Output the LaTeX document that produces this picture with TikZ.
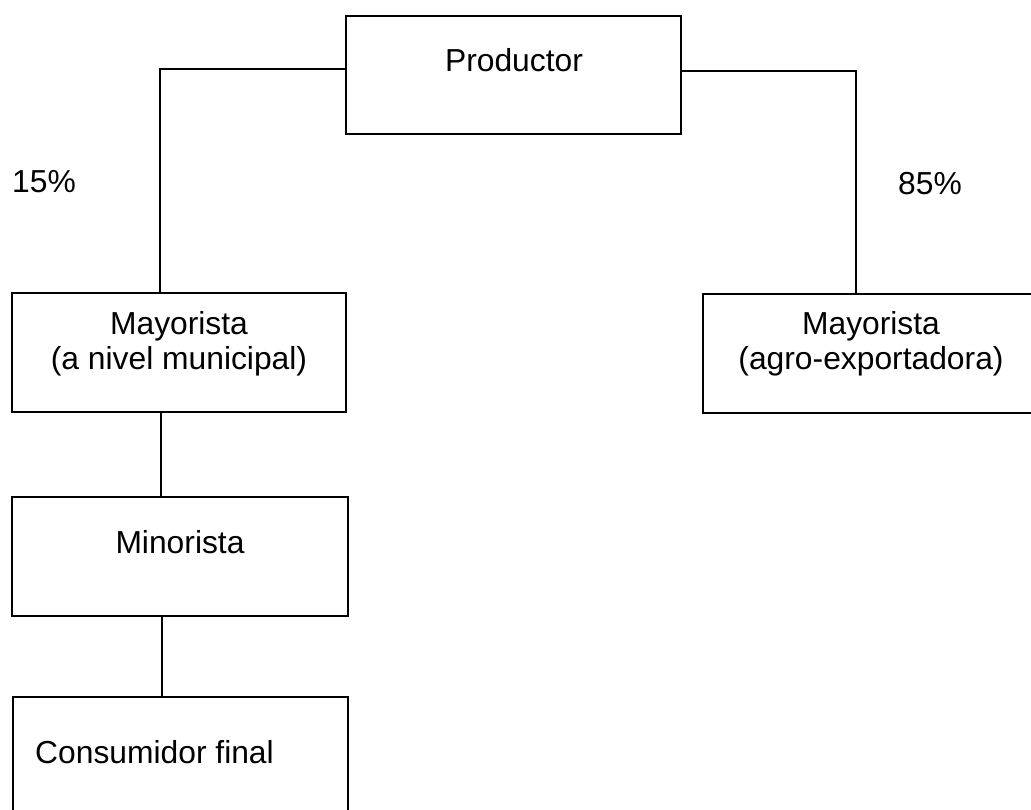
\documentclass[tikz,border=0pt]{standalone}
\usepackage{fontspec}
\setmainfont{Liberation Sans}
\usetikzlibrary{calc}
\tikzset{
  box/.style={draw=black, line width=2.2pt, inner sep=0pt, minimum width=#1},
  box/.default=335pt,
  txt/.style={anchor=base, inner sep=0pt, font=\fontsize{31.8}{35}\selectfont},
  conn/.style={draw=black, line width=2.2pt}
}
\begin{document}
\begin{tikzpicture}[x=1pt,y=-1pt]
\useasboundingbox (0,0) rectangle (1031,810);
\clip (0,0) rectangle (1031,810);
% boxes
\node[box=335pt, minimum height=118pt] (prod) at (513.5,75) {};
\node[box=334pt, minimum height=119pt] (mayL) at (179,352.5) {};
\node[box=337pt, minimum height=119pt] (mayR) at (871.5,353.5) {};
\node[box=336pt, minimum height=119pt] (mino) at (180,556.5) {};
\node[box=335pt, minimum height=140pt] (cons) at (180.5,767) {};
% texts
\node[txt] (tprod) at (514,72) {Productor};
\node[txt] (tmayL1) at (179,335) {Mayorista};
\node[txt] (tmayL2) at (179,370) {(a nivel municipal)};
\node[txt] (tmayR1) at (871,335) {Mayorista};
\node[txt] (tmayR2) at (871,370) {(agro-exportadora)};
\node[txt] (tmino) at (180,553) {Minorista};
\node[txt, anchor=base west] (tcons) at (35,763) {Consumidor final};
\node[txt, anchor=base west] (p15) at (12,193) {15\%};
\node[txt, anchor=base west] (p85) at (898,195) {85\%};
% connectors
\draw[conn] ([yshift=6pt]prod.west) -| ([xshift=-19pt]mayL.north);
\draw[conn] ([yshift=4pt]prod.east) -| ([xshift=-15.5pt]mayR.north);
\draw[conn] ([xshift=-18pt]mayL.south) -- ([xshift=-18pt]mayL.south |- mino.north);
\draw[conn] ([xshift=-18pt]mino.south) -- ([xshift=-18pt]mino.south |- cons.north);
\end{tikzpicture}
\end{document}
